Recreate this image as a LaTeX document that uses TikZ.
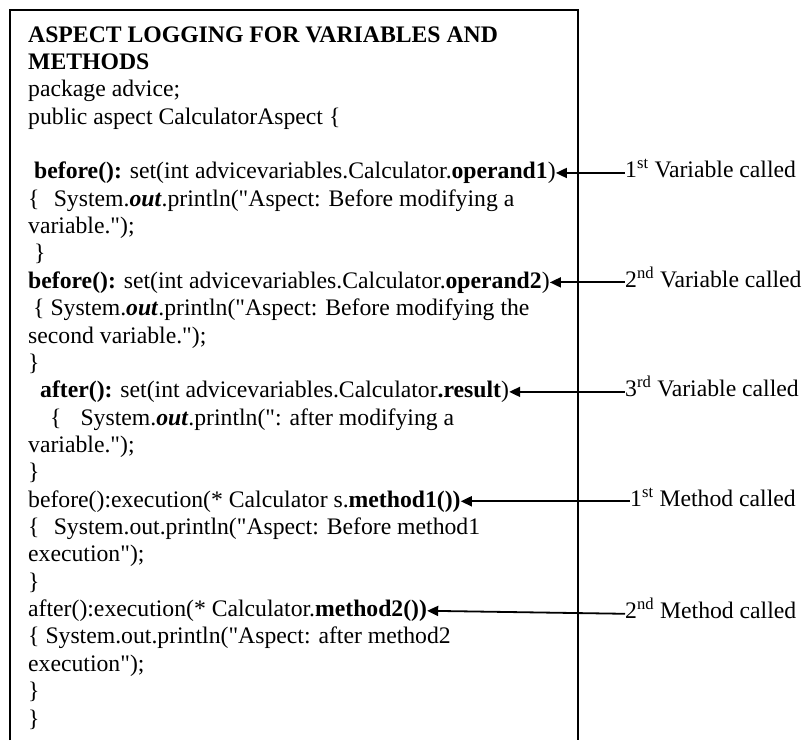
\documentclass[tikz,border=0pt]{standalone}
\usepackage{fontspec}
\newfontfamily\codefont{Liberation Serif}
\usetikzlibrary{arrows.meta}

\begin{document}
\begin{tikzpicture}[x=1pt, y=-1pt, every node/.style={font=\codefont\fontsize{23.7}{27}\selectfont, inner sep=0pt, anchor=base west}, tag/.style={anchor=west, text height=10pt, text depth=0pt}, >={Triangle[length=11pt, width=10pt]}]
	\useasboundingbox (0,0) rectangle (806,740);
	\draw[line width=1.8pt] (10,740) -- (10,10) -- (578,10) -- (578,740);
	\node (head) at (28,42) {\textbf{ASPECT LOGGING FOR VARIABLES AND}};
	\node (headb) at (28,69.4) {\textbf{METHODS}};
	\node (pkg) at (28,96.7) {package advice;};
	\node (asp) at (28,124.1) {public aspect CalculatorAspect \{};
	\node (opa) at (34,178.8) {\textbf{before():} set(int advicevariables.Calculator.\textbf{operand1})};
	\node (opaa) at (28,206.2) {\{\hspace{0.6em}System.\textbf{\textit{out}}.println("Aspect: Before modifying a};
	\node (opab) at (28,233.5) {variable.");};
	\node (opac) at (34,260.9) {\}};
	\node (opb) at (28,288.2) {\textbf{before():} set(int advicevariables.Calculator.\textbf{operand2})};
	\node (opba) at (33,315.6) {\{ System.\textbf{\textit{out}}.println("Aspect: Before modifying the};
	\node (opbb) at (28,343.0) {second variable.");};
	\node (opbc) at (28,370.3) {\}};
	\node (res) at (40,397.7) {\textbf{after():} set(int advicevariables.Calculator\textbf{.result})};
	\node (resa) at (50,425.0) {\{\hspace{0.8em}System.\textbf{\textit{out}}.println(": after modifying a};
	\node (resb) at (28,452.4) {variable.");};
	\node (resc) at (28,479.8) {\}};
	\node (mone) at (28,507.1) {before():execution(* Calculator s.\textbf{method1())}};
	\node (monea) at (28,534.5) {\{\hspace{0.6em}System.out.println("Aspect: Before method1};
	\node (moneb) at (28,561.8) {execution");};
	\node (monec) at (28,589.2) {\}};
	\node (mtwo) at (28,616.6) {after():execution(* Calculator.\textbf{method2())}};
	\node (mtwoa) at (28,643.9) {\{ System.out.println("Aspect: after method2};
	\node (mtwob) at (28,671.3) {execution");};
	\node (mtwoc) at (28,698.6) {\}};
	\node (close) at (28,726.0) {\}};
	\coordinate (rcol) at (625,0);
	\node[tag] (vara) at (opa.east -| rcol) {1\textsuperscript{st} Variable called};
	\node[tag] (varb) at (opb.east -| rcol) {2\textsuperscript{nd} Variable called};
	\node[tag] (varc) at (res.east -| rcol) {3\textsuperscript{rd} Variable called};
	\node[tag] (metha) at ([xshift=5pt]mone.east -| rcol) {1\textsuperscript{st} Method called};
	\node[tag] (methb) at ([yshift=-3pt]mtwo.east -| rcol) {2\textsuperscript{nd} Method called};
	\draw[<-, line width=1.8pt] (opa.east) -- (vara.west);
	\draw[<-, line width=1.8pt] (opb.east) -- (varb.west);
	\draw[<-, line width=1.8pt] (res.east) -- (varc.west);
	\draw[<-, line width=1.8pt] (mone.east) -- (metha.west);
	\draw[<-, line width=1.8pt] (mtwo.east) -- (methb.west);
\end{tikzpicture}
\end{document}
